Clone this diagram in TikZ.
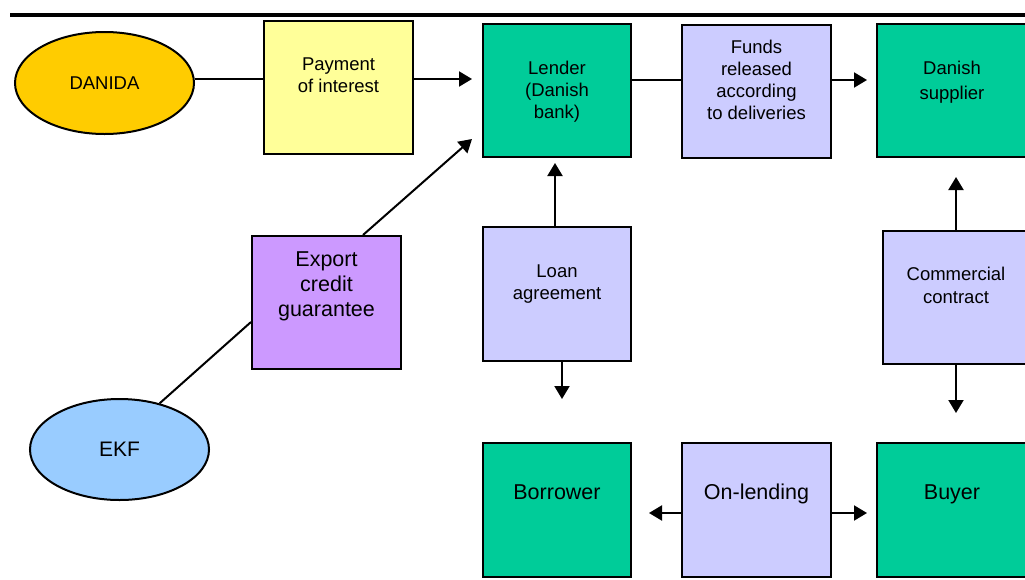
\documentclass[tikz,border=0pt]{standalone}
\usepackage{fontspec}
\setmainfont{Liberation Sans}
\usetikzlibrary{shapes.geometric,arrows.meta}
\definecolor{cgreen}{HTML}{00CC99}
\definecolor{cyellow}{HTML}{FFFF99}
\definecolor{clav}{HTML}{CCCCFF}
\definecolor{cpurple}{HTML}{CC99FF}
\definecolor{cblue}{HTML}{99CCFF}
\definecolor{corange}{HTML}{FFCC00}
\tikzset{
  box/.style={draw=black, line width=2pt, rectangle, minimum width=149pt, minimum height=133pt, inner sep=0pt},
  oval/.style={draw=black, line width=2pt, ellipse, minimum width=179pt, minimum height=102pt, inner sep=0pt},
  small/.style={font=\fontsize{18.5pt}{22pt}\selectfont, align=center, inner sep=0pt},
  large/.style={font=\fontsize{21.5pt}{25pt}\selectfont, align=center, inner sep=0pt},
  conn/.style={line width=2pt},
  arr/.style={line width=2pt, -{Triangle[length=13pt,width=15pt]}},
}
\begin{document}
\begin{tikzpicture}[x=1pt,y=-1pt]
\useasboundingbox (0,0) rectangle (1025,579);
% top rule
\coordinate (ruleL) at (10,15);
\coordinate (ruleR) at (1030,15);
\draw[line width=4pt] (ruleL) -- (ruleR);
% nodes
\node[oval, fill=corange, font=\fontsize{18.5pt}{22pt}\selectfont] (danida) at (104.5,83) {DANIDA};
\node[oval, fill=cblue, minimum height=101pt, font=\fontsize{21pt}{25pt}\selectfont] (ekf) at (119.5,449.5) {EKF};
\node[box, fill=cyellow] (pay) at (338.5,87.5) {};
\node[box, fill=cgreen, minimum width=148pt] (lender) at (557,90.5) {};
\node[box, fill=clav] (funds) at (756.5,91.5) {};
\node[box, fill=cgreen] (supplier) at (951.5,90.5) {};
\node[box, fill=cpurple] (export) at (326.5,302.5) {};
\node[box, fill=clav, minimum width=148pt, minimum height=134pt] (loan) at (557,294) {};
\node[box, fill=clav] (commercial) at (957.5,297.5) {};
\node[box, fill=cgreen, minimum width=148pt, minimum height=134pt] (borrower) at (557,510) {};
\node[box, fill=clav, minimum height=134pt] (onlend) at (756.5,510) {};
\node[box, fill=cgreen, minimum height=134pt] (buyer) at (951.5,510) {};
% texts
\node[small, anchor=north] (payT) at (338.5,58) {Payment\\of interest};
\node[small, anchor=north] (lenderT) at (557,61) {Lender\\(Danish\\bank)};
\node[small, anchor=north] (fundsT) at (756.5,40) {Funds\\released\\according\\to deliveries};
\node[small, anchor=north] (supplierT) at (952,61) {Danish\\[3pt]supplier};
\node[large, anchor=north] (exportT) at (326.5,252) {Export\\credit\\guarantee};
\node[small, anchor=north] (loanT) at (557,265) {Loan\\agreement};
\node[small, anchor=north] (commercialT) at (956,267) {Commercial\\[1pt]contract};
\node[large, anchor=north] (borrowerT) at (557,484) {Borrower};
\node[large, anchor=north] (onlendT) at (756.5,484) {On-lending};
\node[large, anchor=north] (buyerT) at (952,484) {Buyer};
% free ends
\coordinate (loanEnd) at (562,399);
\coordinate (commUp) at (956,177);
\coordinate (commDown) at (956,413);
% connectors
\draw[conn] ([yshift=4pt]danida.east) -- ([yshift=8.5pt]pay.west);
\draw[arr] ([yshift=8.5pt]pay.east) -- ([xshift=-10pt,yshift=11.5pt]lender.west);
\draw[conn] ([yshift=10.5pt]lender.east) -- ([yshift=11.5pt]funds.west);
\draw[arr] ([yshift=11.5pt]funds.east) -- ([xshift=-9pt,yshift=10.5pt]supplier.west);
\draw[arr] ([xshift=-2pt]loan.north) -- ([xshift=-2pt,yshift=-5pt]lender.south);
\draw[arr] ([xshift=5pt]loan.south) -- (loanEnd);
\draw[arr] ([xshift=-1.5pt]commercial.north) -- (commUp);
\draw[arr] ([xshift=-1.5pt]commercial.south) -- (commDown);
\draw[arr] ([yshift=-3pt]onlend.west) -- ([xshift=17pt,yshift=-3pt]borrower.east);
\draw[arr] ([yshift=-3pt]onlend.east) -- ([xshift=-9pt,yshift=-3pt]buyer.west);
\draw[conn] (ekf.49) -- ([yshift=-19.5pt]export.west);
\draw[arr] ([xshift=36.5pt]export.north) -- ([xshift=-10pt,yshift=19pt]lender.south west);
\end{tikzpicture}
\end{document}
